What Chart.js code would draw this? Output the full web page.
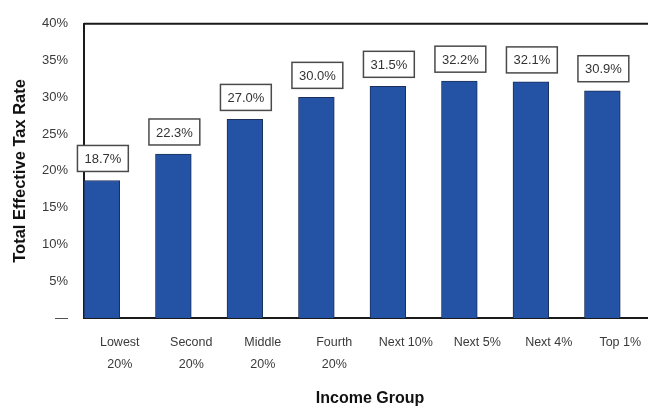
<!DOCTYPE html>
<html><head><meta charset="utf-8">
<script src="https://cdn.jsdelivr.net/npm/chart.js@4/dist/chart.umd.min.js"></script>
<style>
html,body{margin:0;padding:0;background:#fff;overflow:hidden;}
#wrap{width:648px;height:410px;overflow:hidden;position:relative;}
#box{width:656px;height:410px;position:absolute;left:0;top:0;}
</style></head>
<body><div id="wrap"><div id="box"><canvas id="c"></canvas></div></div>
<script>
const categories = [["Lowest","20%"],["Second","20%"],["Middle","20%"],["Fourth","20%"],"Next 10%","Next 5%","Next 4%","Top 1%"];
const rates = [18.7, 22.3, 27.0, 30.0, 31.5, 32.2, 32.1, 30.9];
const rateLabels = ["18.7%","22.3%","27.0%","30.0%","31.5%","32.2%","32.1%","30.9%"];
const yTicks = [0,5,10,15,20,25,30,35,40];

const labelBoxes = {
  id:'labelBoxes',
  afterDatasetsDraw(chart){
    const ctx = chart.ctx;
    const meta = chart.getDatasetMeta(0);
    ctx.save();
    ctx.font = '13px "Liberation Sans", Arial, sans-serif';
    ctx.textAlign = 'center';
    ctx.textBaseline = 'middle';
    meta.data.forEach((bar,i)=>{
      const txt = rateLabels[i];
      const w = ctx.measureText(txt).width + 14;
      const h = 26;
      const cx = bar.x + 1;
      const bottom = bar.y - 9;
      ctx.fillStyle = '#fff';
      ctx.fillRect(cx - w/2, bottom - h, w, h);
      ctx.strokeStyle = '#4a4a4a';
      ctx.lineWidth = 1.5;
      ctx.strokeRect(cx - w/2, bottom - h, w, h);
      ctx.fillStyle = '#333';
      ctx.fillText(txt, cx, bottom - h/2 + 1);
    });
    const a = chart.chartArea;
    ctx.strokeStyle = '#1a1a1a';
    ctx.lineWidth = 2;
    ctx.beginPath();
    ctx.moveTo(a.left, a.top);
    ctx.lineTo(a.right + 10, a.top);
    ctx.stroke();
    ctx.restore();
  }
};

new Chart(document.getElementById('c'), {
  type:'bar',
  data:{
    labels: categories,
    datasets:[
      {data: rates, backgroundColor:'#2453a5', borderColor:'#1b2f5a', borderWidth:1, categoryPercentage:1, barPercentage:1},
      {data: rates.map(()=>null), backgroundColor:'rgba(0,0,0,0)', categoryPercentage:1, barPercentage:1}
    ]
  },
  options:{
    responsive:true, maintainAspectRatio:false, animation:false,
    layout:{padding:{top:13, right:0, left:0, bottom:0}},
    plugins:{legend:{display:false}, tooltip:{enabled:false}},
    scales:{
      x:{
        grid:{display:false, drawTicks:false},
        border:{display:true, color:'#1a1a1a', width:2},
        ticks:{color:'#3a3a3a', font:{family:'"Liberation Sans", Arial, sans-serif', size:12.5, lineHeight:1.75}, padding:14, maxRotation:0, autoSkip:false},
        title:{display:true, text:'Income Group', color:'#111', font:{family:'"Liberation Sans", Arial, sans-serif', size:16, weight:'bold'}, padding:{top:4,bottom:2}},
        afterFit(s){ s.height = 92; }
      },
      y:{
        min:0, max:40,
        afterBuildTicks(s){ s.ticks = yTicks.map(v=>({value:v})); },
        grid:{display:false, drawTicks:false},
        border:{display:true, color:'#1a1a1a', width:2},
        ticks:{color:'#3a3a3a', font:{family:'"Liberation Sans", Arial, sans-serif', size:13}, padding:16,
          callback:(v)=> v===0 ? '\u2014' : v+'%'},
        title:{display:true, text:'Total Effective Tax Rate', color:'#111', font:{family:'"Liberation Sans", Arial, sans-serif', size:16.5, weight:'bold'}, padding:{top:11,bottom:0}},
        afterFit(s){ s.width = 84; }
      }
    }
  },
  plugins:[labelBoxes]
});
</script></body></html>
